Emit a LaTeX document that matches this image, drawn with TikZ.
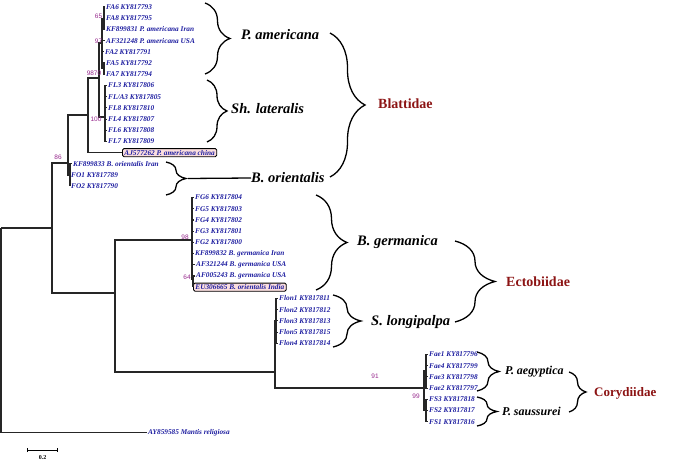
\documentclass[tikz,border=0pt]{standalone}
\usepackage{fontspec}
\setmainfont{Liberation Serif}
\setsansfont{Liberation Sans}
\usetikzlibrary{arrows.meta,positioning,decorations.pathreplacing}
\definecolor{corfolha}{RGB}{30,30,160}
\definecolor{corboot}{RGB}{150,40,140}
\definecolor{corfamilia}{RGB}{140,20,20}
\definecolor{corcaixa}{RGB}{250,222,222}

\begin{document}
\begin{tikzpicture}[x=1pt, y=-1pt,
  ramo/.style={line width=1.1pt, color=black!85},
  folha/.style={anchor=west, inner sep=1pt, text=corfolha,
                font=\fontsize{7.3}{8}\selectfont\bfseries\itshape},
  destaque/.style={folha, draw=black, line width=0.9pt, fill=corcaixa,
                   rounded corners=1.5pt, inner xsep=2pt, inner ysep=1.5pt},
  boot/.style={text=corboot, inner sep=0pt, font=\fontsize{6.5}{6.5}\selectfont\sffamily},
  chave/.style={decorate, decoration={brace, amplitude=#1}, line width=1.3pt},
  chave/.default=20,
  especie/.style={anchor=west, inner sep=0pt, font=\fontsize{14.5}{16}\selectfont\bfseries\itshape},
  especiep/.style={especie, font=\fontsize{12}{14}\selectfont\bfseries\itshape},
  familia/.style={anchor=west, inner sep=0pt, text=corfamilia, font=\fontsize{14}{16}\selectfont\bfseries}
]
  \useasboundingbox (0,0) rectangle (685,462);

  % folhas
  \node[folha] (fa6) at (105,7.0) {FA6 KY817793};
  \node[folha] (fa8) at (105,18.2) {FA8 KY817795};
  \node[folha] (kf831) at (105,29.4) {KF899831 P. americana Iran};
  \node[folha] (af248) at (105,40.6) {AF321248 P. americana USA};
  \node[folha] (fa2) at (104,51.8) {FA2 KY817791};
  \node[folha] (fa5) at (105,63.0) {FA5 KY817792};
  \node[folha] (fa7) at (105,74.3) {FA7 KY817794};
  \node[folha] (fl3) at (107,85.5) {FL3 KY817806};
  \node[folha] (fla3) at (107,96.7) {FL/A3 KY817805};
  \node[folha] (fl8) at (107,107.9) {FL8 KY817810};
  \node[folha] (fl4) at (107,119.1) {FL4 KY817807};
  \node[folha] (fl6) at (107,130.3) {FL6 KY817808};
  \node[folha] (fl7) at (107,141.5) {FL7 KY817809};
  \node[destaque] (aj262) at (122,152.7) {AJ577262 P. americana china};
  \node[folha] (kf833) at (72,163.9) {KF899833 B. orientalis Iran};
  \node[folha] (fo1) at (70,175.0) {FO1 KY817789};
  \node[folha] (fo2) at (70,186.4) {FO2 KY817790};
  \node[folha] (fg6) at (194,197.6) {FG6 KY817804};
  \node[folha] (fg5) at (194,208.8) {FG5 KY817803};
  \node[folha] (fg4) at (194,220.0) {FG4 KY817802};
  \node[folha] (fg3) at (194,231.2) {FG3 KY817801};
  \node[folha] (fg2) at (194,242.4) {FG2 KY817800};
  \node[folha] (kf832) at (194,253.6) {KF899832 B. germanica Iran};
  \node[folha] (af244) at (195,264.8) {AF321244 B. germanica USA};
  \node[folha] (af243) at (195,276.0) {AF005243 B. germanica USA};
  \node[destaque] (eu665) at (193,287.2) {EU306665 B. orientalis India};
  \node[folha] (flon1) at (278,298.5) {Flon1 KY817811};
  \node[folha] (flon2) at (278,309.7) {Flon2 KY817812};
  \node[folha] (flon3) at (278,320.9) {Flon3 KY817813};
  \node[folha] (flon5) at (278,332.1) {Flon5 KY817815};
  \node[folha] (flon4) at (278,343.3) {Flon4 KY817814};
  \node[folha] (fae1) at (428,354.5) {Fae1 KY817796};
  \node[folha] (fae4) at (428,365.7) {Fae4 KY817799};
  \node[folha] (fae3) at (428,376.9) {Fae3 KY817798};
  \node[folha] (fae2) at (428,388.1) {Fae2 KY817797};
  \node[folha] (fs3) at (428,399.3) {FS3 KY817818};
  \node[folha] (fs2) at (428,410.5) {FS2 KY817817};
  \node[folha] (fs1) at (428,421.7) {FS1 KY817816};
  \node[folha] (mantis) at (147,432.9) {AY859585 Mantis religiosa};

  % nos internos
  \coordinate (raiz) at (1,228);
  \coordinate (nI) at (52,228);
  \coordinate (nB) at (68,163);
  \coordinate (nO) at (70,175);
  \coordinate (nAL) at (88,115);
  \coordinate (nAL2) at (99,78);
  \coordinate (nAm) at (102,43);
  \coordinate (nA1) at (104,18.2);
  \coordinate (nA3) at (104,68.6);
  \coordinate (nLat) at (105,117);
  \coordinate (nE) at (115,293);
  \coordinate (nG) at (192,240);
  \coordinate (nG64) at (193,279);
  \coordinate (nF) at (275,372);
  \coordinate (nLon) at (276,321);
  \coordinate (nC) at (424,388);
  \coordinate (nFae) at (426,371);
  \coordinate (nFS) at (426,410.5);

  % ramos
  \draw[ramo] (raiz) |- (nI) (raiz) |- (mantis.west);
  \draw[ramo] (nI) |- (nB) (nI) |- (nE);
  \draw[ramo] (nB) |- (nAL) (nB) |- (nO);
  \foreach \f in {kf833,fo1,fo2} \draw[ramo] (nO) |- (\f.west);
  \draw[ramo] (nAL) |- (nAL2) (nAL) |- (aj262.west);
  \draw[ramo] (nAL2) |- (nAm) (nAL2) |- (nLat);
  \draw[ramo] (nAm) |- (nA1) (nAm) |- (af248.west) (nAm) |- (fa2.west) (nAm) |- (nA3);
  \foreach \f in {fa6,fa8,kf831} \draw[ramo] (nA1) |- (\f.west);
  \foreach \f in {fa5,fa7} \draw[ramo] (nA3) |- (\f.west);
  \foreach \f in {fl3,fla3,fl8,fl4,fl6,fl7} \draw[ramo] (nLat) |- (\f.west);
  \draw[ramo] (nE) |- (nG) (nE) |- (nF);
  \foreach \f in {fg6,fg5,fg4,fg3,fg2,kf832,af244} \draw[ramo] (nG) |- (\f.west);
  \draw[ramo] (nG) |- (nG64);
  \foreach \f in {af243,eu665} \draw[ramo] (nG64) |- (\f.west);
  \draw[ramo] (nF) |- (nLon) (nF) |- (nC);
  \foreach \f in {flon1,flon2,flon3,flon5,flon4} \draw[ramo] (nLon) |- (\f.west);
  \draw[ramo] (nC) |- (nFae) (nC) |- (nFS);
  \foreach \f in {fae1,fae4,fae3,fae2} \draw[ramo] (nFae) |- (\f.west);
  \foreach \f in {fs3,fs2,fs1} \draw[ramo] (nFS) |- (\f.west);

  % bootstrap
  \node[boot] (b65) at (98.5,16.5) {65};
  \node[boot] (b97) at (98.5,41) {97};
  \node[boot] (b9870) at (94,73) {9870};
  \node[boot] (b100) at (96,119) {100};
  \node[boot] (b86) at (58,157) {86};
  \node[boot] (b98) at (185,237) {98};
  \node[boot] (b64) at (187,277) {64};
  \node[boot] (b91) at (375,376) {91};
  \node[boot] (b99) at (416,396) {99};

  % escala
  \coordinate (esc1) at (27,450);
  \coordinate (esc2) at (58,450);
  \draw[line width=0.9pt, {Bar[width=4pt]}-{Bar[width=4pt]}] (esc1) -- (esc2)
    node[midway, below=2pt, font=\fontsize{6}{6}\selectfont\bfseries] (escala) {0.2};

  % chaves das especies
  \coordinate (c1a) at (205,3);   \coordinate (c1b) at (205,74);
  \coordinate (c2a) at (207,80);  \coordinate (c2b) at (207,142);
  \coordinate (c3a) at (166,162); \coordinate (c3b) at (166,195);
  \coordinate (c5a) at (316,195); \coordinate (c5b) at (316,290);
  \coordinate (c6a) at (333,295); \coordinate (c6b) at (333,347);
  \coordinate (c8a) at (477,352); \coordinate (c8b) at (477,391);
  \coordinate (c9a) at (477,397); \coordinate (c9b) at (477,426);
  \draw[chave=25] (c1a) -- (c1b);
  \draw[chave=20] (c2a) -- (c2b);
  \draw[chave=20] (c3a) -- (c3b);
  \draw[chave=31] (c5a) -- (c5b);
  \draw[chave=28] (c6a) -- (c6b);
  \draw[chave=22] (c8a) -- (c8b);
  \draw[chave=20] (c9a) -- (c9b);

  \node[especie] (pam) at (241,35) {P. americana};
  \node[especie] (shl) at (231,109) {Sh. lateralis};
  \node[especie] (bor) at (251,178) {B. orientalis};
  \node[especie] (bge) at (357,242) {B. germanica};
  \node[especie] (slo) at (371,322) {S. longipalpa};
  \node[especiep] (pae) at (505,372) {P. aegyptica};
  \node[especiep] (psa) at (502,411) {P. saussurei};
  \draw[line width=1.3pt] (188,178.5) -- (bor.west);

  % chaves das familias
  \coordinate (c4a) at (330,33);  \coordinate (c4b) at (330,177);
  \coordinate (c7a) at (455,241); \coordinate (c7b) at (455,322);
  \coordinate (c10a) at (569,372); \coordinate (c10b) at (569,412);
  \draw[chave=35] (c4a) -- (c4b);
  \draw[chave=40] (c7a) -- (c7b);
  \draw[chave=17] (c10a) -- (c10b);

  \node[familia] (blat) at (378,104) {Blattidae};
  \node[familia] (ecto) at (506,282) {Ectobiidae};
  \node[familia, font=\fontsize{13}{15}\selectfont\bfseries] (cory) at (594,393) {Corydiidae};
\end{tikzpicture}
\end{document}
